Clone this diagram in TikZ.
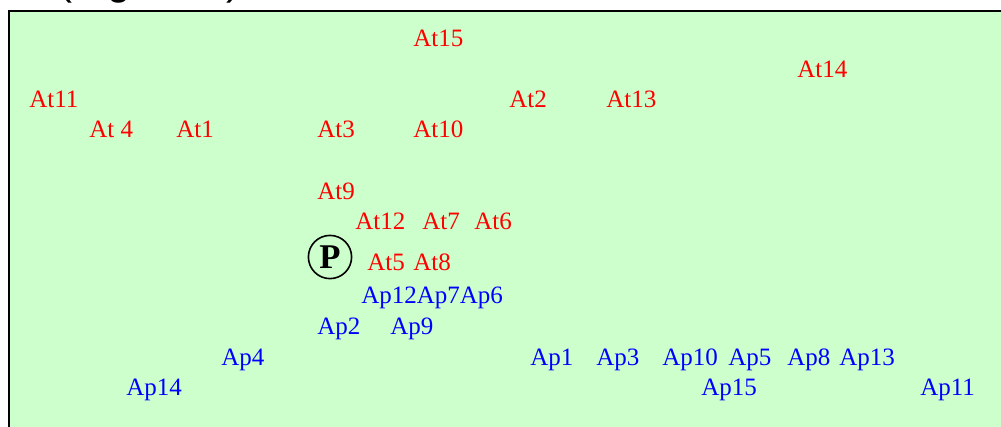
\documentclass[tikz,border=0pt]{standalone}
\usepackage{fontspec}
\setmainfont{Liberation Serif}
\newfontfamily\headfont{Liberation Sans}
\usepackage{tikz}

\definecolor{fieldgreen}{RGB}{204,255,204}
\definecolor{tred}{RGB}{255,0,0}
\definecolor{pblue}{RGB}{0,0,255}

\begin{document}
\begin{tikzpicture}[x=0.75pt,y=0.75pt,yscale=-1,xscale=1,
  atlbl/.style={anchor=base west,inner sep=0pt,text=tred,font=\fontsize{18.75}{22}\selectfont},
  aplbl/.style={anchor=base west,inner sep=0pt,text=pblue,font=\fontsize{18.75}{22}\selectfont}]
\useasboundingbox (0,0) rectangle (1001,426);
\clip (0,0) rectangle (1001,426);

% Caption above the frame (only its lower edge shows)
\node (caption) [anchor=base west,inner sep=0pt,font=\headfont\fontsize{31.5}{36}\selectfont] at (58,-6) {(Figure 2)};

%Shape: Rectangle [id:frame]
\draw [line width=1.6pt,fill=fieldgreen] (8.7,11.2) rectangle (1020,440);

%Shape: Circle [id:pos]
\node (p) [draw,circle,minimum size=32.4pt,inner sep=0pt,line width=1.2pt,
  font=\bfseries\fontsize{26}{30}\selectfont] at (330,257) {P};

% Text Node
\node (at15) [atlbl] at (413,46) {At15};
% Text Node
\node (at14) [atlbl] at (797,77) {At14};
% Text Node
\node (at11) [atlbl] at (29,107) {At11};
% Text Node
\node (at2) [atlbl] at (509,107) {At2};
% Text Node
\node (at13) [atlbl] at (606,107) {At13};
% Text Node
\node (at4) [atlbl] at (89,137) {At 4};
% Text Node
\node (at1) [atlbl] at (176,137) {At1};
% Text Node
\node (at3) [atlbl] at (317,137) {At3};
% Text Node
\node (at10) [atlbl] at (413,137) {At10};
% Text Node
\node (at9) [atlbl] at (317,199) {At9};
% Text Node
\node (at12) [atlbl] at (355,229) {At12};
% Text Node
\node (at7) [atlbl] at (422,229) {At7};
% Text Node
\node (at6) [atlbl] at (474,229) {At6};
% Text Node
\node (at5) [atlbl] at (367,270) {At5};
% Text Node
\node (at8) [atlbl] at (413,270) {At8};

% Text Node
\node (ap1276) [aplbl] at (361,303) {Ap12Ap7Ap6};
% Text Node
\node (ap2) [aplbl] at (317,334) {Ap2};
% Text Node
\node (ap9) [aplbl] at (390,334) {Ap9};
% Text Node
\node (ap4) [aplbl] at (221,365) {Ap4};
% Text Node
\node (ap1) [aplbl] at (530,365) {Ap1};
% Text Node
\node (ap3) [aplbl] at (596,365) {Ap3};
% Text Node
\node (ap10) [aplbl] at (662,365) {Ap10};
% Text Node
\node (ap5) [aplbl] at (728,365) {Ap5};
% Text Node
\node (ap8) [aplbl] at (787,365) {Ap8};
% Text Node
\node (ap13) [aplbl] at (839,365) {Ap13};
% Text Node
\node (ap14) [aplbl] at (126,395) {Ap14};
% Text Node
\node (ap15) [aplbl] at (701,395) {Ap15};
% Text Node
\node (ap11) [aplbl] at (920,395) {Ap11};

\end{tikzpicture}
\end{document}
